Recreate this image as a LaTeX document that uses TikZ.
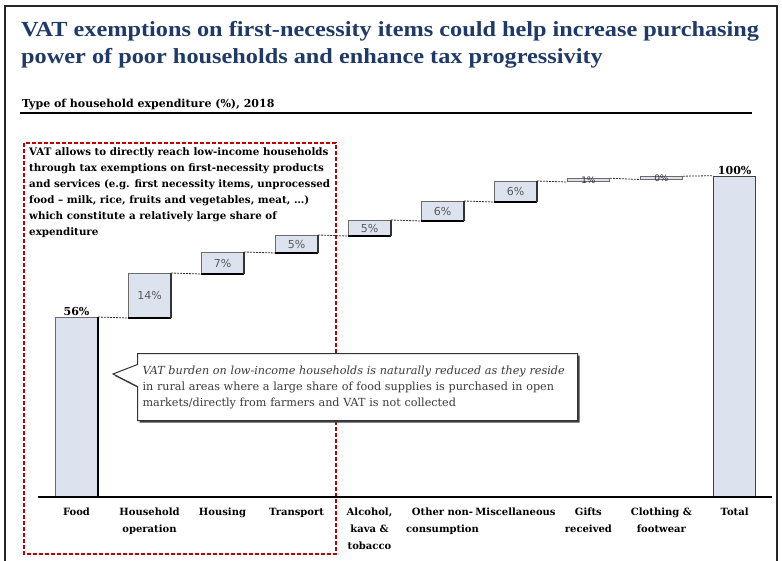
\documentclass[tikz,border=0pt]{standalone}
\usepackage{fontspec}
\setmainfont{DejaVu Serif}
\newfontfamily\titlefont[FakeStretch=1.13]{Liberation Serif}
\newfontfamily\pctfont{DejaVu Sans}
\usetikzlibrary{shapes.callouts,shadows}
\definecolor{navy}{HTML}{1F3A68}
\definecolor{barfill}{HTML}{DCE3EE}
\definecolor{baredge}{HTML}{6B6B6B}
\definecolor{dred}{HTML}{C00000}
\definecolor{pctgray}{HTML}{595959}
\definecolor{calltext}{HTML}{3A3A3A}
\tikzset{
  bar/.style={fill=barfill, draw=baredge, line width=1pt, inner sep=0pt, minimum width=42pt, anchor=south west,
     font=\pctfont\fontsize{11}{12}\selectfont, text=pctgray},
  barbottom/.style={line width=1.6pt, black},
  conn/.style={line width=0.8pt, black!80, dash pattern=on 2pt off 1pt},
  toplabel/.style={anchor=south, inner sep=1pt, font=\bfseries\fontsize{11}{12}\selectfont},
  catlabel/.style={anchor=north, align=center, inner sep=0pt, font=\bfseries\fontsize{10}{17}\selectfont},
  titletext/.style={anchor=base west, inner sep=0pt, text=navy, font=\titlefont\bfseries\fontsize{21.5}{27}\selectfont},
}
\begin{document}
\begin{tikzpicture}[x=1pt,y=-1pt]
\useasboundingbox (0,0) rectangle (782,560);
% frame
\draw[line width=1.2pt, black!85] (5,562) -- (5,6) -- (777,6) -- (777,562);
% title
\node[titletext] (t1) at (21,36) {VAT exemptions on first-necessity items could help increase purchasing};
\node[titletext] (t2) at (21,63) {power of poor households and enhance tax progressivity};
% subtitle
\node[anchor=base west, inner sep=0pt, font=\bfseries\fontsize{11}{12}\selectfont] (sub) at (22,107) {Type of household expenditure (\%), 2018};
\coordinate (ul1) at (20,113);
\coordinate (ul2) at (752,113);
\draw[line width=1.6pt] (ul1) -- (ul2);
% red dashed box
\draw[dred, line width=1.6pt, dash pattern=on 4pt off 2pt] (24,143) rectangle (336,554);
\node[anchor=north west, align=left, inner sep=0pt, font=\bfseries\fontsize{10.3}{16}\selectfont] (note) at (29,147)
{VAT allows to directly reach low-income households\\
through tax exemptions on first-necessity products\\
and services (e.g. first necessity items, unprocessed\\
food -- milk, rice, fruits and vegetables, meat, \ldots)\\
which constitute a relatively large share of\\
expenditure};
% axis
\coordinate (ax1) at (38,497);
\coordinate (ax2) at (772,497);
% bars
\node[bar, minimum height=179pt] (food) at (55,497) {};
\node[bar, minimum height=44pt] (hh) at (128,318) {14\%};
\node[bar, minimum height=21pt] (housing) at (201,274) {7\%};
\node[bar, minimum height=17pt] (transport) at (275,253) {5\%};
\node[bar, minimum height=15pt] (alcohol) at (348,236) {5\%};
\node[bar, minimum height=19pt] (other) at (421,221) {6\%};
\node[bar, minimum height=20pt] (misc) at (494,202) {6\%};
\node[bar, minimum height=3pt, line width=0.8pt] (gifts) at (567,182) {};
\node[bar, minimum height=2.5pt, line width=0.8pt] (cloth) at (640,179.5) {};
\node[bar, minimum height=320pt, draw=black!75, line width=1.3pt] (total) at (713,497) {};
% dark right edge of food bar
\draw[line width=1.6pt] (food.north east) -- (food.south east);
% bottoms and right edges of floating bars
\foreach \b in {hh,housing,transport,alcohol,other,misc}{
  \draw[barbottom] (\b.south west) -- (\b.south east);
  \draw[line width=1.3pt, black!80] (\b.south east) -- (\b.north east);
}
% connectors
\draw[conn] (food.north east) -- (hh.south west);
\draw[conn] (hh.north east) -- (housing.south west);
\draw[conn] (housing.north east) -- (transport.south west);
\draw[conn] (transport.north east) -- (alcohol.south west);
\draw[conn] (alcohol.north east) -- (other.south west);
\draw[conn] (other.north east) -- (misc.south west);
\draw[conn] (misc.north east) -- (gifts.south west);
\draw[conn] (gifts.north east) -- (cloth.south west);
\draw[conn] (cloth.north east) -- (total.north west);
% small labels on thin bars
\node[inner sep=0pt, font=\pctfont\fontsize{9}{10}\selectfont, text=black!80] (gl) at (gifts.center) {1\%};
\node[inner sep=0pt, font=\pctfont\fontsize{9}{10}\selectfont, text=black!80] (cl) at (cloth.center) {0\%};
% axis line drawn over bars
\draw[line width=1.6pt] (ax1) -- (ax2);
% top labels
\node[toplabel] (l56) at (food.north) {56\%};
\node[toplabel] (l100) at (total.north) {100\%};
% category labels
\node[catlabel] (c1) at ([yshift=-11pt]food.south) {Food};
\node[catlabel] (c2) at ([yshift=-11pt]food.south -| hh.south) {Household\\operation};
\node[catlabel] (c3) at ([yshift=-11pt]food.south -| housing.south) {Housing};
\node[catlabel] (c4) at ([yshift=-11pt]food.south -| transport.south) {Transport};
\node[catlabel] (c5) at ([yshift=-11pt]food.south -| alcohol.south) {Alcohol,\\kava \&\\tobacco};
\node[catlabel] (c6) at ([yshift=-11pt]food.south -| other.south) {Other non-\\consumption};
\node[catlabel] (c7) at ([yshift=-11pt]food.south -| misc.south) {Miscellaneous};
\node[catlabel] (c8) at ([yshift=-11pt]food.south -| gifts.south) {Gifts\\received};
\node[catlabel] (c9) at ([yshift=-11pt]food.south -| cloth.south) {Clothing \&\\footwear};
\node[catlabel] (c10) at ([yshift=-11pt]total.south) {Total};
% callout
\coordinate (tip) at (113,374);
\node[rectangle callout, callout absolute pointer={(tip)}, callout pointer width=22pt,
  fill=white, draw=black!80, line width=1pt, minimum width=440pt, minimum height=67pt,
  drop shadow={shadow xshift=2pt, shadow yshift=-2pt, fill=black!75, opacity=1},
  text width=430pt, align=left, inner sep=4pt, text=calltext,
  font=\fontsize{11.2}{16}\selectfont] (call) at (357.5,387)
{\textit{VAT burden on low-income households is naturally reduced as they reside}\\
in rural areas where a large share of food supplies is purchased in open\\
markets/directly from farmers and VAT is not collected};
\end{tikzpicture}
\end{document}
